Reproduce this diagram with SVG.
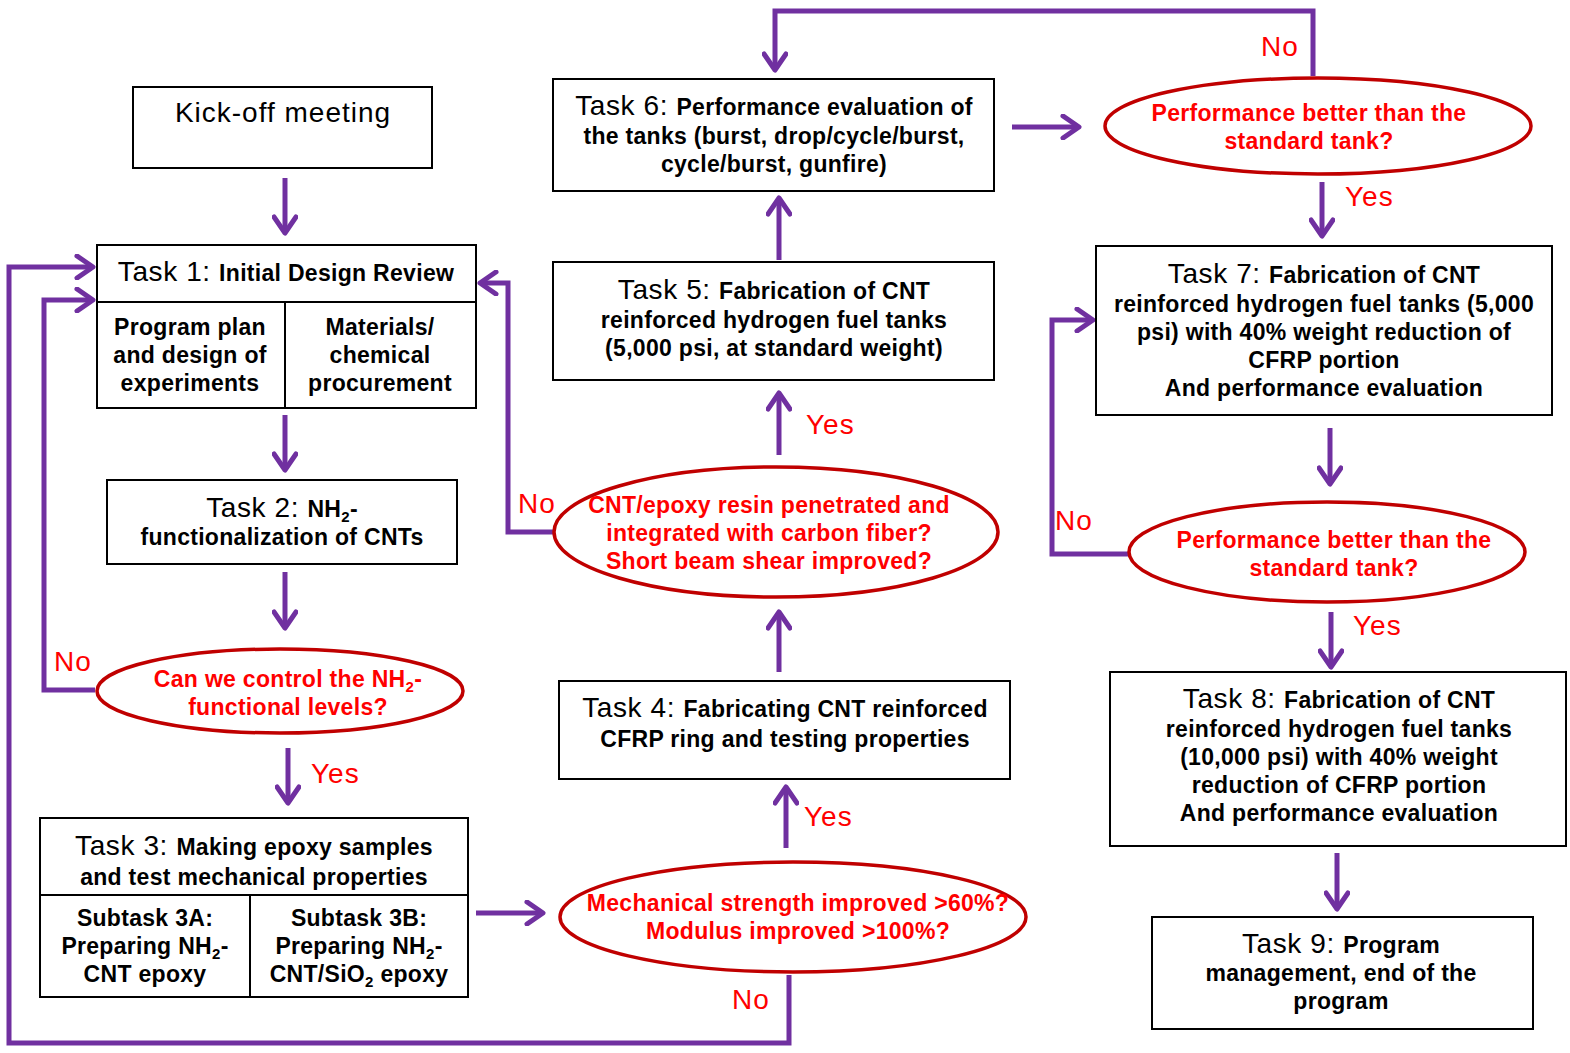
<svg xmlns="http://www.w3.org/2000/svg" width="1570" height="1053" viewBox="0 0 1570 1053">
<defs>
<marker id="ah" viewBox="0 0 22 26" refX="19" refY="13" markerWidth="22" markerHeight="26" orient="auto" markerUnits="userSpaceOnUse">
<path d="M3,2 L19,13 L3,24" fill="none" stroke="#7030A0" stroke-width="5" stroke-linecap="round" stroke-linejoin="round"/>
</marker>
<style>
.box{fill:#fff;stroke:#000;stroke-width:2}
.ell{fill:#fff;stroke:#C00000;stroke-width:3.5}
.t{font-family:"Liberation Sans",Arial,sans-serif;font-size:23px;letter-spacing:0.3px;font-weight:bold;fill:#000;text-anchor:middle}
.tk{font-weight:normal;font-size:28px;letter-spacing:0.6px}
.r{font-family:"Liberation Sans",Arial,sans-serif;font-size:23px;letter-spacing:0.3px;font-weight:bold;fill:#FF0000;text-anchor:middle}
.lbl{font-family:"Liberation Sans",Arial,sans-serif;font-size:28px;letter-spacing:1px;fill:#FF0000}
.a{fill:none;stroke:#7030A0;stroke-width:5;marker-end:url(#ah)}
</style>
</defs>

<g id="connectors">
<line class="a" x1="285" y1="178" x2="285" y2="233"/>
<line class="a" x1="285" y1="415" x2="285" y2="470"/>
<line class="a" x1="285" y1="572" x2="285" y2="628"/>
<line class="a" x1="288" y1="748" x2="288" y2="803"/>
<polyline class="a" points="95,690 44,690 44,300 93,300"/>
<polyline class="a" points="789,975 789,1043 9,1043 9,267 93,267"/>
<line class="a" x1="476" y1="913" x2="543" y2="913"/>
<line class="a" x1="786" y1="848" x2="786" y2="787"/>
<line class="a" x1="779" y1="672" x2="779" y2="612"/>
<polyline class="a" points="555,532 508,532 508,283 480,283"/>
<line class="a" x1="779" y1="455" x2="779" y2="393"/>
<line class="a" x1="779" y1="260" x2="779" y2="198"/>
<line class="a" x1="1012" y1="127" x2="1079" y2="127"/>
<polyline class="a" points="1313,76 1313,11 775,11 775,70"/>
<line class="a" x1="1322" y1="182" x2="1322" y2="236"/>
<line class="a" x1="1330" y1="428" x2="1330" y2="484"/>
<polyline class="a" points="1129,554 1052,554 1052,320 1093,320"/>
<line class="a" x1="1331" y1="612" x2="1331" y2="667"/>
<line class="a" x1="1337" y1="853" x2="1337" y2="909"/>
<text class="lbl" x="54" y="671">No</text>
<text class="lbl" x="311" y="783">Yes</text>
<text class="lbl" x="732" y="1009">No</text>
<text class="lbl" x="804" y="826">Yes</text>
<text class="lbl" x="518" y="513">No</text>
<text class="lbl" x="806" y="434">Yes</text>
<text class="lbl" x="1261" y="56">No</text>
<text class="lbl" x="1345" y="206">Yes</text>
<text class="lbl" x="1055" y="530">No</text>
<text class="lbl" x="1353" y="635">Yes</text>
</g>

<g id="kickoff">
<rect class="box" x="133" y="87" width="299" height="81"/>
<text class="t" x="283" y="122" style="font-weight:normal;font-size:28px;letter-spacing:1px">Kick-off meeting</text>
</g>

<g id="task1">
<rect class="box" x="97" y="245" width="379" height="163"/>
<line x1="97" y1="302" x2="476" y2="302" stroke="#000" stroke-width="2"/>
<line x1="285" y1="302" x2="285" y2="408" stroke="#000" stroke-width="2"/>
<text class="t" x="286" y="281"><tspan class="tk">Task 1: </tspan><tspan> Initial Design Review</tspan></text>
<text class="t" x="190" y="335">Program plan</text>
<text class="t" x="190" y="363">and design of</text>
<text class="t" x="190" y="391">experiments</text>
<text class="t" x="380" y="335">Materials/</text>
<text class="t" x="380" y="363">chemical</text>
<text class="t" x="380" y="391">procurement</text>
</g>

<g id="task2">
<rect class="box" x="107" y="480" width="350" height="84"/>
<text class="t" x="282" y="517"><tspan class="tk">Task 2: </tspan><tspan>NH</tspan><tspan font-size="15" dy="5">2</tspan><tspan dy="-5">-</tspan></text>
<text class="t" x="282" y="545">functionalization of CNTs</text>
</g>

<g id="dec-nh2">
<ellipse class="ell" cx="280" cy="691" rx="183" ry="42"/>
<text class="r" x="288" y="687">Can we control the NH<tspan font-size="15" dy="5">2</tspan><tspan dy="-5">-</tspan></text>
<text class="r" x="288" y="715">functional levels?</text>
</g>

<g id="task3">
<rect class="box" x="40" y="818" width="428" height="179"/>
<line x1="40" y1="895" x2="468" y2="895" stroke="#000" stroke-width="2"/>
<line x1="250" y1="895" x2="250" y2="997" stroke="#000" stroke-width="2"/>
<text class="t" x="254" y="855"><tspan class="tk">Task 3: </tspan><tspan>Making epoxy samples</tspan></text>
<text class="t" x="254" y="885">and test mechanical properties</text>
<text class="t" x="145" y="926">Subtask 3A:</text>
<text class="t" x="145" y="954">Preparing NH<tspan font-size="15" dy="5">2</tspan><tspan dy="-5">-</tspan></text>
<text class="t" x="145" y="982">CNT epoxy</text>
<text class="t" x="359" y="926">Subtask 3B:</text>
<text class="t" x="359" y="954">Preparing NH<tspan font-size="15" dy="5">2</tspan><tspan dy="-5">-</tspan></text>
<text class="t" x="359" y="982">CNT/SiO<tspan font-size="15" dy="5">2</tspan><tspan dy="-5"> epoxy</tspan></text>
</g>

<g id="dec-mech">
<ellipse class="ell" cx="793" cy="917" rx="233" ry="55"/>
<text class="r" x="798" y="911">Mechanical strength improved &gt;60%?</text>
<text class="r" x="798" y="939">Modulus improved &gt;100%?</text>
</g>

<g id="task4">
<rect class="box" x="559" y="681" width="451" height="98"/>
<text class="t" x="785" y="717"><tspan class="tk">Task 4: </tspan><tspan>Fabricating CNT reinforced</tspan></text>
<text class="t" x="785" y="747">CFRP ring and testing properties</text>
</g>

<g id="dec-cnt">
<ellipse class="ell" cx="776" cy="532" rx="222" ry="65"/>
<text class="r" x="769" y="513">CNT/epoxy resin penetrated and</text>
<text class="r" x="769" y="541">integrated with  carbon fiber?</text>
<text class="r" x="769" y="569">Short beam shear improved?</text>
</g>

<g id="task5">
<rect class="box" x="553" y="262" width="441" height="118"/>
<text class="t" x="774" y="299"><tspan class="tk">Task 5: </tspan><tspan>Fabrication of CNT</tspan></text>
<text class="t" x="774" y="328">reinforced hydrogen fuel tanks</text>
<text class="t" x="774" y="356">(5,000 psi, at standard weight)</text>
</g>

<g id="task6">
<rect class="box" x="553" y="79" width="441" height="112"/>
<text class="t" x="774" y="115"><tspan class="tk">Task 6: </tspan><tspan>Performance evaluation of</tspan></text>
<text class="t" x="774" y="144">the tanks (burst, drop/cycle/burst,</text>
<text class="t" x="774" y="172">cycle/burst, gunfire)</text>
</g>

<g id="dec-perf1">
<ellipse class="ell" cx="1318" cy="126" rx="213" ry="48"/>
<text class="r" x="1309" y="121">Performance better than the</text>
<text class="r" x="1309" y="149">standard tank?</text>
</g>

<g id="task7">
<rect class="box" x="1096" y="246" width="456" height="169"/>
<text class="t" x="1324" y="283"><tspan class="tk">Task 7: </tspan><tspan>Fabrication of CNT</tspan></text>
<text class="t" x="1324" y="312">reinforced hydrogen fuel tanks (5,000</text>
<text class="t" x="1324" y="340">psi) with 40% weight reduction of</text>
<text class="t" x="1324" y="368">CFRP portion</text>
<text class="t" x="1324" y="396">And performance evaluation</text>
</g>

<g id="dec-perf2">
<ellipse class="ell" cx="1327" cy="552" rx="198" ry="50"/>
<text class="r" x="1334" y="548">Performance better than the</text>
<text class="r" x="1334" y="576">standard tank?</text>
</g>

<g id="task8">
<rect class="box" x="1110" y="672" width="456" height="174"/>
<text class="t" x="1339" y="708"><tspan class="tk">Task 8: </tspan><tspan>Fabrication of CNT</tspan></text>
<text class="t" x="1339" y="737">reinforced hydrogen fuel tanks</text>
<text class="t" x="1339" y="765">(10,000 psi) with 40% weight</text>
<text class="t" x="1339" y="793">reduction of CFRP portion</text>
<text class="t" x="1339" y="821">And performance evaluation</text>
</g>

<g id="task9">
<rect class="box" x="1152" y="917" width="381" height="112"/>
<text class="t" x="1341" y="953"><tspan class="tk">Task 9: </tspan><tspan>Program</tspan></text>
<text class="t" x="1341" y="981">management, end of the</text>
<text class="t" x="1341" y="1009">program</text>
</g>
</svg>
